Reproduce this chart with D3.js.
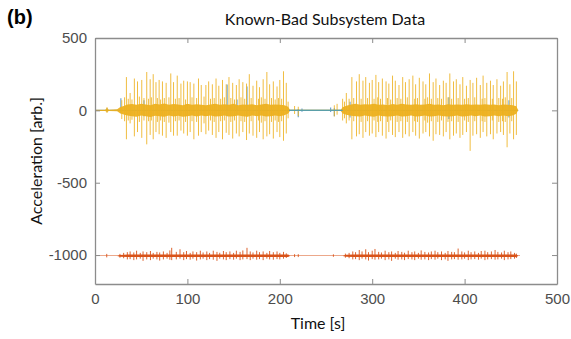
<!DOCTYPE html>
<html>
<head>
<meta charset="utf-8">
<script src="https://cdn.jsdelivr.net/npm/d3@7"></script>
<style>
  body { margin: 0; background: #fff; }
</style>
</head>
<body>
<svg id="svg1"></svg>
<script>
// x tick values and y tick values
let xTicks = [0, 100, 200, 300, 400, 500];
let yTicks = [-1000, -500, 0, 500];

// yellow channel: dense band [t, hi, lo]
let yellowBand = [
  [0, 4, -4], [11, 5, -5], [13, 16, -12], [15, 5, -5], [24, 7, -7], [27, 22, -20], [31, 30, -28],
  [35, 40, -36], [40, 44, -40], [45, 38, -44], [50, 46, -36], [55, 40, -40], [60, 36, -46],
  [65, 45, -38], [70, 40, -40], [75, 48, -44], [80, 38, -36], [85, 44, -42], [90, 40, -38],
  [95, 36, -44], [100, 45, -40], [105, 38, -36], [110, 42, -42], [115, 38, -36], [120, 35, -40],
  [125, 40, -36], [130, 45, -42], [135, 38, -40], [140, 42, -35], [145, 38, -42], [150, 46, -40],
  [155, 35, -36], [160, 40, -40], [165, 38, -44], [170, 42, -36], [175, 36, -40], [180, 40, -36],
  [185, 45, -42], [190, 38, -40], [195, 40, -36], [200, 38, -40], [205, 35, -34], [209, 25, -22],
  [211, 5, -5], [266, 5, -5], [268, 22, -22], [272, 32, -30], [277, 40, -38], [282, 45, -40],
  [287, 38, -42], [292, 42, -36], [297, 40, -40], [302, 46, -44], [307, 38, -36], [312, 40, -40],
  [317, 36, -42], [322, 44, -40], [327, 38, -35], [332, 45, -42], [337, 40, -40], [342, 38, -36],
  [347, 42, -42], [352, 38, -40], [357, 40, -35], [362, 45, -42], [367, 38, -40], [372, 40, -36],
  [377, 36, -40], [382, 42, -42], [387, 38, -40], [392, 40, -36], [397, 38, -42], [402, 42, -40],
  [407, 38, -35], [412, 40, -40], [417, 38, -36], [422, 42, -42], [427, 38, -40], [432, 40, -35],
  [437, 36, -40], [442, 40, -36], [447, 38, -40], [452, 35, -35], [456, 28, -24], [458, 0, 0]
];

// yellow channel: spikes [t, hi, lo]
let yellowSpikes = [
  [13, 22, -18], [29, 70, -60], [32, 90, -75],
  [34, 230, -200], [36, 80, -70], [38, 120, -90], [40, 75, -65], [42.6, 220, -180], [46, 200, -150],
  [48, 95, -80], [50.6, 210, -190], [53, 85, -70],
  [56, 265, -235], [58, 80, -75], [59.7, 215, -170], [61, 90, -70], [63, 250, -200], [66, 195, -150],
  [67.5, 85, -80], [69.4, 210, -165], [71, 75, -70],
  [73, 200, -175], [75, 85, -80], [77, 190, -190], [80, 90, -85], [82, 255, -150], [85, 195, -175],
  [87, 80, -75], [89, 240, -175], [91, 85, -70],
  [93, 185, -140], [96, 205, -160], [98, 75, -80], [100, 200, -175], [103, 195, -150], [105, 90, -75],
  [107, 185, -200], [110, 85, -80],
  [112, 220, -175], [115, 175, -150], [118, 95, -90], [120, 175, -165], [123, 200, -140],
  [125, 80, -70], [127, 180, -170], [129, 85, -80], [131, 220, -190], [134, 170, -150], [136, 80, -75],
  [138, 210, -200], [140, 90, -70], [142, 180, -155],
  [145, 230, -170], [147, 85, -80], [149, 190, -195], [151, 75, -70], [153, 175, -160], [156, 215, -180],
  [158, 90, -75], [160, 195, -150], [162, 80, -80],
  [164, 185, -205], [167, 250, -160], [169, 85, -75], [171, 170, -175], [175, 205, -190], [177, 80, -70],
  [178, 160, -150], [180, 90, -85],
  [182, 215, -200], [184, 80, -75], [186, 265, -180], [189, 180, -165], [191, 85, -80], [193, 200, -195],
  [195, 75, -70], [197, 165, -150], [198.5, 85, -80],
  [200, 210, -185], [202, 80, -75], [204, 270, -210], [207, 190, -160], [209, 60, -55],
  [216, 30, -25], [220, 25, -40], [259, 35, -42], [262, 45, -30],
  [268, 80, -70], [270, 60, -55], [272, 120, -90], [275, 80, -70], [278, 230, -200], [280, 85, -75],
  [283, 200, -180], [286, 250, -165], [288, 80, -80],
  [290, 205, -190], [293, 230, -150], [295, 85, -75], [297, 190, -175], [300, 210, -160], [302, 80, -70],
  [304, 245, -185], [306, 90, -80],
  [307, 195, -150], [309, 80, -75], [311, 220, -175], [315, 200, -195], [316.5, 85, -80], [318, 185, -150],
  [320, 75, -70], [322, 240, -170],
  [325, 205, -185], [327, 85, -80], [329, 175, -150], [331, 80, -75], [333, 230, -190], [336, 195, -165],
  [338, 90, -80], [340, 215, -180],
  [344, 240, -150], [346, 80, -75], [347, 180, -175], [349, 85, -80], [351, 225, -195], [355, 200, -160],
  [357, 80, -70], [358, 180, -150], [360, 90, -85],
  [362, 255, -180], [364, 80, -75], [366, 195, -210], [369, 220, -165], [371, 85, -80], [373, 175, -170],
  [375, 80, -70], [377, 205, -180],
  [380, 190, -150], [382, 90, -80], [384, 255, -200], [386, 80, -75], [388, 200, -175], [391, 215, -160],
  [393, 85, -80], [395, 180, -190],
  [398, 230, -170], [400, 80, -70], [402, 170, -150], [404, 85, -80], [406, 210, -280], [409, 190, -175],
  [411, 90, -75], [413, 225, -165],
  [417, 175, -190], [419, 80, -75], [420, 240, -150], [422, 85, -80], [424, 190, -180], [428, 205, -165],
  [430, 80, -70], [431, 175, -200],
  [435, 215, -160], [437, 85, -80], [439, 170, -150], [441, 80, -75], [442, 200, -170], [444, 90, -80],
  [446, 265, -255], [449, 180, -160], [451, 85, -75],
  [453, 270, -200], [456, 200, -170]
];

// blue channel: visible spikes [t, hi, lo]
let blueSpikes = [
  [13, 15, -8], [28, 84, -20], [53, 70, -40], [143, 178, -40], [153.7, 75, -30], [164.5, 164, -40],
  [220, 10, -48], [224, 12, -10], [255, 20, -12], [259, 15, -41], [276, 60, -50], [383, 90, -60],
  [448, 70, -50]
];
let blueLine = [[0, 0], [210, 0], [220, 0], [259, 0], [268, 0], [458, 0]];

// orange channel: baseline and spikes [t, hi, lo]
let orangeBand = [
  [0, -1003, -1007], [24, -1003, -1007], [27, -999, -1011], [36, -996, -1014], [209, -996, -1014],
  [211, -1003, -1007], [268, -1003, -1007], [272, -998, -1012], [280, -996, -1014],
  [456, -996, -1014], [458, -1003, -1007], [460, -1003, -1007]
];
let orangeSpikes = [
  [12.7, -992, -1016], [27, -992, -1018], [31, -985, -1022], [35, -980, -1030], [38, -975, -1028],
  [42, -982, -1035], [45, -970, -1030], [49, -985, -1025], [52, -975, -1040], [56, -980, -1030],
  [60, -972, -1035], [63, -985, -1025], [67, -978, -1030], [70, -982, -1038], [74, -975, -1030],
  [78, -985, -1025], [81, -968, -1032], [83, -950, -1035], [88, -978, -1030], [92, -960, -1025],
  [96, -980, -1035], [99, -972, -1028], [103, -985, -1032], [106, -975, -1025], [110, -980, -1038],
  [114, -970, -1030], [117, -982, -1025], [121, -975, -1035], [124, -985, -1028], [128, -970, -1032],
  [132, -978, -1040], [135, -984, -1025], [139, -972, -1030], [142, -980, -1035], [146, -975, -1028],
  [150, -985, -1032], [153, -970, -1025], [157, -978, -1035], [160, -968, -1030], [164.5, -950, -1028],
  [168, -975, -1035], [171, -982, -1025], [175, -970, -1032], [178, -980, -1028], [182, -975, -1035],
  [186, -985, -1025], [189, -972, -1030], [193, -980, -1032], [197, -975, -1028], [200, -985, -1030],
  [204, -978, -1025], [207, -988, -1020],
  [216, -994, -1014], [220, -994, -1014], [258, -995, -1012],
  [271, -990, -1018], [275, -985, -1022], [279, -975, -1030], [282, -980, -1028], [286, -965, -1035],
  [289, -975, -1025], [293, -960, -1030], [296, -980, -1038], [300, -970, -1028], [303, -958, -1032],
  [307, -978, -1030], [310, -982, -1025], [314, -970, -1035], [318, -980, -1030], [321, -975, -1040],
  [325, -985, -1025], [328, -972, -1032], [332, -978, -1030], [335, -984, -1035], [339, -970, -1028],
  [343, -980, -1030], [346, -975, -1035], [350, -985, -1025], [353, -968, -1032], [357, -978, -1030],
  [361, -982, -1035], [364, -975, -1028], [368, -970, -1032], [371, -980, -1025], [375, -975, -1035],
  [379, -985, -1030], [382, -972, -1040], [386, -978, -1030], [389, -980, -1028], [393, -955, -1032],
  [397, -975, -1030], [400, -982, -1025], [404, -970, -1035], [407, -980, -1030], [411, -975, -1028],
  [415, -985, -1032], [418, -972, -1025], [422, -970, -1035], [425, -980, -1030], [429, -975, -1028],
  [433, -965, -1032], [436, -978, -1030], [440, -982, -1025], [443, -970, -1035], [447, -980, -1030],
  [450, -975, -1028], [454, -985, -1025], [456, -990, -1020]
];

let width = 571, height = 339;
let svg = d3.select("#svg1")
  .attr("width", width)
  .attr("height", height);

let left = 95, right = 557, top_sp = 38, bottom = 284;

let xax = d3.scaleLinear()
  .domain([0, 500])
  .range([left, right]);
let yax = d3.scaleLinear()
  .domain([-1200, 500])
  .range([bottom, top_sp]);

svg.append("clipPath")
  .attr("id", "innerAxes")
  .append("rect")
  .attr("x", left)
  .attr("y", top_sp)
  .attr("width", right - left)
  .attr("height", bottom - top_sp);

let plot = svg.append("g").attr("clip-path", "url(#innerAxes)");

let band = d3.area()
  .x(d => xax(d[0]))
  .y0(d => yax(d[2]))
  .y1(d => yax(d[1]));

function drawSpikes(data, color, w, op) {
  plot.append("g")
    .selectAll("line")
    .data(data)
    .join("line")
    .attr("x1", d => xax(d[0]))
    .attr("x2", d => xax(d[0]))
    .attr("y1", d => yax(d[1]))
    .attr("y2", d => yax(d[2]))
    .attr("stroke", color)
    .attr("stroke-width", w)
    .attr("stroke-opacity", op);
}

// blue (first in colour order)
plot.append("path")
  .attr("d", d3.line().x(d => xax(d[0])).y(d => yax(d[1]))(blueLine))
  .attr("stroke", "#0072BD")
  .attr("stroke-width", 1)
  .attr("fill", "none");
drawSpikes(blueSpikes, "#4a90c8", 1.2, 0.8);

// orange
plot.append("path")
  .attr("d", band(orangeBand))
  .attr("fill", "#D95319");
drawSpikes(orangeSpikes, "#D95319", 1, 0.9);

// yellow
plot.append("path")
  .attr("d", band(yellowBand))
  .attr("fill", "#EDB120")
  .attr("fill-opacity", 0.95);
drawSpikes(yellowSpikes, "#EDB120", 1, 0.85);

// quiet-region trace where blue shows through
plot.append("path")
  .attr("d", d3.line().x(d => xax(d[0])).y(d => yax(d[1]))(blueLine.filter(d => d[0] >= 210 && d[0] <= 268)))
  .attr("stroke", "#5a9fa8")
  .attr("stroke-width", 1.2)
  .attr("fill", "none");

// axes box with inward ticks
let axisColor = "#8c8c8c";
let xax_draw = d3.axisBottom(xax).tickValues(xTicks).tickSize(-5).tickPadding(9).tickSizeOuter(0);
svg.append("g")
  .attr("class", "axis")
  .attr("transform", `translate(0, ${bottom})`)
  .call(xax_draw);
svg.append("g")
  .attr("class", "axis notext")
  .attr("transform", `translate(0, ${top_sp})`)
  .call(d3.axisTop(xax).tickValues(xTicks).tickSize(-5).tickSizeOuter(0));

let yax_draw = d3.axisLeft(yax).tickValues(yTicks).tickSize(-5).tickPadding(8).tickSizeOuter(0);
svg.append("g")
  .attr("class", "axis")
  .attr("transform", `translate(${left}, 0)`)
  .call(yax_draw);
svg.append("g")
  .attr("class", "axis notext")
  .attr("transform", `translate(${right}, 0)`)
  .call(d3.axisRight(yax).tickValues(yTicks).tickSize(-5).tickSizeOuter(0));

svg.selectAll(".notext text").remove();
svg.selectAll(".axis path, .axis line").attr("stroke", axisColor);
svg.selectAll(".axis path").attr("stroke-width", 1.3);
svg.selectAll(".axis text")
  .style("font-family", "'Liberation Sans', Arial, sans-serif")
  .style("font-size", "15px")
  .attr("fill", "#4d4d4d");
svg.selectAll(".axis .tick text")
  .text(d => d3.format("")(d).replace("−", "-"));

// labels
let labelFont = "Lato, 'Open Sans', sans-serif";
svg.append("text")
  .text("Known-Bad Subsystem Data")
  .attr("x", 325)
  .attr("y", 25)
  .attr("text-anchor", "middle")
  .attr("font-family", labelFont)
  .attr("font-size", 16)
  .attr("fill", "#111");

svg.append("text")
  .text("(b)")
  .attr("x", 7)
  .attr("y", 24)
  .attr("font-family", "'Liberation Sans', Arial, sans-serif")
  .attr("font-weight", "bold")
  .attr("font-size", 20)
  .attr("fill", "#000");

svg.append("text")
  .text("Time [s]")
  .attr("x", 318)
  .attr("y", 329)
  .attr("text-anchor", "middle")
  .attr("font-family", labelFont)
  .attr("font-size", 16)
  .attr("fill", "#111");

svg.append("text")
  .text("Acceleration [arb.]")
  .attr("text-anchor", "middle")
  .attr("transform", `translate(42, ${(top_sp + bottom) / 2}) rotate(-90)`)
  .attr("font-family", labelFont)
  .attr("font-size", 16)
  .attr("fill", "#111");
</script>
</body>
</html>
